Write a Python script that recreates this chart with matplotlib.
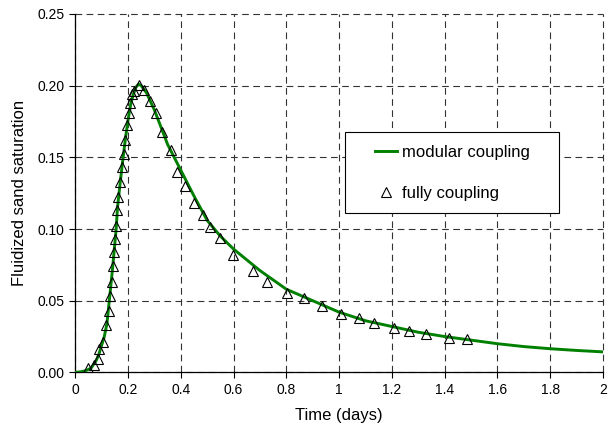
import matplotlib
matplotlib.use('Agg')
import matplotlib.pyplot as plt
from matplotlib.patches import Rectangle
from matplotlib.ticker import FuncFormatter

# modular coupling curve
t_mod = [0, 0.02, 0.04, 0.06, 0.08, 0.09, 0.10, 0.11, 0.12, 0.125, 0.13, 0.14,
         0.15, 0.155, 0.16, 0.17, 0.18, 0.19, 0.20, 0.21, 0.22, 0.23, 0.24,
         0.25, 0.27, 0.30, 0.35, 0.40, 0.45, 0.50, 0.55, 0.60, 0.70, 0.80,
         0.90, 1.00, 1.10, 1.20, 1.30, 1.40, 1.50, 1.60, 1.70, 1.80, 1.90, 2.00]
s_mod = [0, 0.0004, 0.0012, 0.003, 0.0085, 0.013, 0.019, 0.025, 0.034, 0.043,
         0.052, 0.07, 0.09, 0.10, 0.115, 0.132, 0.148, 0.163, 0.176, 0.187,
         0.194, 0.199, 0.201, 0.2, 0.195, 0.183, 0.159, 0.141, 0.123, 0.106,
         0.095, 0.086, 0.071, 0.058, 0.050, 0.042, 0.036, 0.032, 0.028, 0.025,
         0.0225, 0.020, 0.018, 0.0165, 0.0153, 0.0143]

# fully coupling points
t_full = [0.049, 0.072, 0.085, 0.091, 0.104, 0.118, 0.126, 0.131, 0.138, 0.143,
          0.148, 0.151, 0.154, 0.158, 0.163, 0.170, 0.177, 0.183, 0.187, 0.197,
          0.203, 0.208, 0.215, 0.224, 0.241, 0.260, 0.282, 0.305, 0.327, 0.361,
          0.387, 0.415, 0.451, 0.483, 0.510, 0.548, 0.599, 0.673, 0.728, 0.803,
          0.866, 0.936, 1.006, 1.075, 1.133, 1.208, 1.264, 1.331, 1.416, 1.486]
s_full = [0.003, 0.005, 0.009, 0.016, 0.021, 0.033, 0.043, 0.053, 0.063, 0.074,
          0.084, 0.093, 0.102, 0.113, 0.1225, 0.133, 0.1435, 0.152, 0.162, 0.1726,
          0.181, 0.1877, 0.194, 0.1965, 0.2005, 0.197, 0.189, 0.181, 0.168, 0.155,
          0.140, 0.130, 0.118, 0.110, 0.1016, 0.094, 0.082, 0.0708, 0.063, 0.0557,
          0.0516, 0.0463, 0.0405, 0.0379, 0.0342, 0.0309, 0.0288, 0.0265, 0.0237, 0.023]

xticks = [0, 0.2, 0.4, 0.6, 0.8, 1.0, 1.2, 1.4, 1.6, 1.8, 2.0]
yticks = [0, 0.05, 0.10, 0.15, 0.20, 0.25]

plt.rcParams['font.family'] = ['Liberation Sans', 'DejaVu Sans']

fig = plt.figure(figsize=(6.14, 4.30), dpi=100)
ax = fig.add_axes([0.1226, 0.134, 0.8594, 0.8335])

ax.plot(t_mod, s_mod, color='#008000', linewidth=2.1, label='modular coupling', zorder=3)
ax.plot(t_full, s_full, linestyle='none', marker='^', markersize=6.5,
        markerfacecolor='none', markeredgecolor='black', markeredgewidth=0.8,
        label='fully coupling', zorder=4)

ax.set_xlim(0, 2)
ax.set_ylim(0, 0.25)
ax.set_xticks(xticks)
ax.set_yticks(yticks)
ax.xaxis.set_major_formatter(FuncFormatter(lambda v, p: '%g' % v))
ax.yaxis.set_major_formatter(FuncFormatter(lambda v, p: '%.2f' % v))
ax.tick_params(labelsize=10, direction='out', length=4, width=0.8)

# dashed grid, no top/right frame
ax.grid(True, color='#333333', linewidth=0.8, linestyle=(0, (6, 4)))
ax.spines['top'].set_visible(False)
ax.spines['right'].set_visible(False)
ax.spines['left'].set_linewidth(0.9)
ax.spines['bottom'].set_linewidth(0.9)
for gl in ax.get_xgridlines() + ax.get_ygridlines():
    gl.set_clip_on(False)

ax.set_xlabel('Time (days)', fontsize=12, labelpad=8)
ax.set_ylabel('Fluidized sand saturation', fontsize=12, labelpad=8)

# legend box drawn by hand, legend entries placed inside it
box = Rectangle((0.512, 0.445), 0.405, 0.226, transform=ax.transAxes,
                facecolor='white', edgecolor='black', linewidth=0.8, zorder=5)
ax.add_patch(box)
leg = ax.legend(loc='center left', bbox_to_anchor=(0.568, 0.557),
                borderaxespad=0, borderpad=0, fontsize=12, handlelength=1.3,
                handletextpad=0.3, labelspacing=1.55, frameon=False)
leg.set_zorder(6)

fig.savefig('out.png', dpi=100)
